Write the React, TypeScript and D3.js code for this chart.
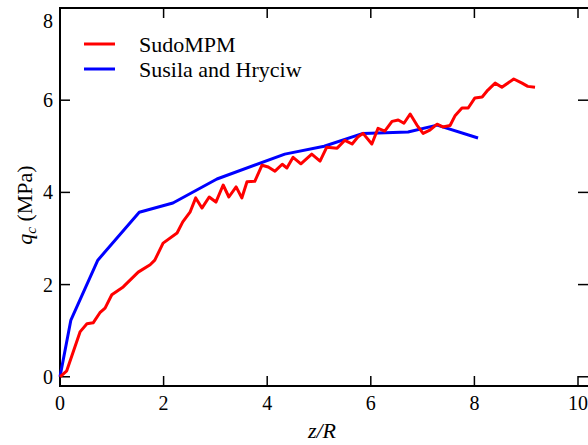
import React from "react";
import * as d3 from "d3";

const sudoX = [0, 0.13, 0.39, 0.52, 0.64, 0.77, 0.87, 1.0, 1.22, 1.51, 1.74, 1.83, 1.99, 2.26, 2.37, 2.51, 2.62, 2.74, 2.88, 3.01, 3.15, 3.26, 3.4, 3.51, 3.61, 3.76, 3.9, 4.02, 4.15, 4.29, 4.38, 4.5, 4.65, 4.86, 5.02, 5.15, 5.35, 5.5, 5.64, 5.75, 5.85, 6.02, 6.14, 6.27, 6.41, 6.53, 6.64, 6.76, 6.89, 7.01, 7.14, 7.28, 7.39, 7.53, 7.63, 7.76, 7.88, 8.01, 8.15, 8.26, 8.4, 8.53, 8.76, 8.92, 9.03, 9.17];
const sudoY = [0, 0.13, 0.98, 1.15, 1.17, 1.39, 1.49, 1.78, 1.95, 2.27, 2.43, 2.53, 2.9, 3.12, 3.36, 3.57, 3.88, 3.66, 3.9, 3.79, 4.16, 3.9, 4.12, 3.88, 4.23, 4.24, 4.59, 4.55, 4.46, 4.61, 4.53, 4.76, 4.62, 4.83, 4.68, 4.98, 4.96, 5.13, 5.05, 5.2, 5.28, 5.05, 5.39, 5.33, 5.54, 5.57, 5.5, 5.7, 5.46, 5.28, 5.35, 5.48, 5.42, 5.45, 5.67, 5.83, 5.83, 6.05, 6.07, 6.22, 6.37, 6.28, 6.46, 6.37, 6.3, 6.28];

const susX = [0, 0.21, 0.73, 1.53, 2.18, 3.03, 4.34, 5.1, 5.85, 6.72, 7.28, 8.07];
const susY = [0, 1.23, 2.53, 3.57, 3.77, 4.29, 4.83, 5.0, 5.28, 5.31, 5.46, 5.18];

const xTicks = [0, 2, 4, 6, 8, 10];
const yTicks = [0, 2, 4, 6, 8];

const legendLabels = ["SudoMPM", "Susila and Hryciw"];
const colors = ["#ff0000", "#0000ff"];

const FONT = "Liberation Serif, DejaVu Serif, serif";

export default function App() {
  const W = 588, H = 445;
  const left = 60, top = 8, bottom = 386;
  const x = d3.scaleLinear().domain([0, 10]).range([left, 578]);
  const right = 590;
  const y = d3.scaleLinear().domain([-0.2, 8]).range([bottom, top]);
  const line = d3.line<[number, number]>().x(d => x(d[0])).y(d => y(d[1]));
  const sudo = sudoX.map((v, i) => [v, sudoY[i]] as [number, number]);
  const sus = susX.map((v, i) => [v, susY[i]] as [number, number]);
  const ts = { fontFamily: FONT };
  return (
    <svg width={W} height={H} style={{ position: "absolute", left: 0, top: 0, fontFamily: FONT }}>
      <rect x={0} y={0} width={W} height={H} fill="#fff" />
      <rect x={left} y={top} width={right - left} height={bottom - top} fill="none" stroke="#000" strokeWidth={2} />
      {xTicks.map(t => (
        <g key={"x" + t}>
          <line x1={x(t)} x2={x(t)} y1={bottom} y2={bottom - 10} stroke="#000" strokeWidth={1.5} />
          <line x1={x(t)} x2={x(t)} y1={top} y2={top + 10} stroke="#000" strokeWidth={1.5} />
          <text x={x(t)} y={410} fontSize={20} textAnchor="middle" style={ts}>{t}</text>
        </g>
      ))}
      {yTicks.map(t => (
        <g key={"y" + t}>
          <line x1={left} x2={left + 10} y1={y(t)} y2={y(t)} stroke="#000" strokeWidth={1.5} />
          <line x1={x(10)} x2={x(10) + 12} y1={y(t)} y2={y(t)} stroke="#000" strokeWidth={1.5} />
          <text x={53} y={Math.max(y(t), 21) + 7} fontSize={20} textAnchor="end" style={ts}>{t}</text>
        </g>
      ))}
      <path d={line(sus) || ""} fill="none" stroke={colors[1]} strokeWidth={3} strokeLinejoin="round" />
      <path d={line(sudo) || ""} fill="none" stroke={colors[0]} strokeWidth={3} strokeLinejoin="round" />
      {legendLabels.map((l, i) => (
        <g key={l}>
          <line x1={84} x2={115} y1={44 + i * 25} y2={44 + i * 25} stroke={colors[i]} strokeWidth={3} />
          <text x={139} y={52 + i * 25} fontSize={22} style={ts}>{l}</text>
        </g>
      ))}
      <text x={322} y={438} fontSize={22} textAnchor="middle" fontStyle="italic" style={ts}>z/R</text>
      <text transform={`translate(32,${(top + bottom) / 2 + 8}) rotate(-90)`} fontSize={22} textAnchor="middle" style={ts}>
        <tspan fontStyle="italic">q</tspan>
        <tspan fontStyle="italic" fontSize={15} dy={4}>c</tspan>
        <tspan dy={-4}> (MPa)</tspan>
      </text>
    </svg>
  );
}
